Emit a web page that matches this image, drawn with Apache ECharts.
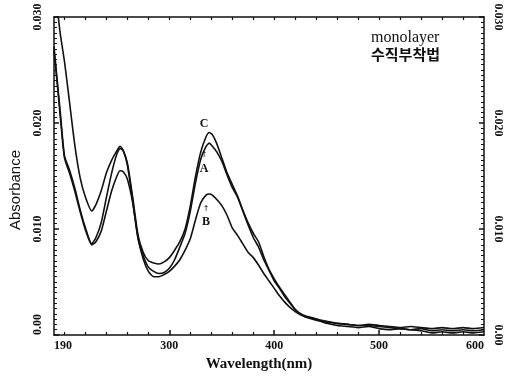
<!DOCTYPE html>
<html>
<head>
<meta charset="utf-8">
<script src="https://cdn.jsdelivr.net/npm/echarts@6/dist/echarts.min.js"></script>
<style>
html,body{margin:0;padding:0;background:#fff;}
#chart{width:505px;height:377px;}
</style>
</head>
<body>
<div id="chart"></div>
<script>
const wavelengths = [190,193,196,200,205,210,215,220,226,230,235,240,245,250,253,256,260,265,270,275,280,285,290,295,300,305,310,315,320,325,330,335,338,341,345,350,355,360,365,370,375,380,385,390,395,400,405,410,415,420,425,430,440,450,460,470,480,490,500,510,520,530,540,550,560,570,580,590,600];
const curveC = [0.034,0.031,0.0284,0.0258,0.0218,0.0178,0.0148,0.013,0.0117,0.0123,0.0136,0.0153,0.0165,0.0174,0.0178,0.0174,0.0162,0.013,0.0095,0.0078,0.007,0.0068,0.0067,0.0069,0.0073,0.0080,0.0088,0.0100,0.0122,0.0150,0.0173,0.0187,0.0191,0.0189,0.0181,0.0167,0.0153,0.0142,0.0131,0.0118,0.0106,0.0096,0.0088,0.0074,0.0062,0.0053,0.0045,0.0038,0.0031,0.0024,0.002,0.0017,0.0014,0.0012,0.0011,0.001,0.0009,0.001,0.0009,0.0008,0.0007,0.0008,0.0007,0.0006,0.0007,0.0006,0.0007,0.0006,0.0007];
const curveA = [0.0272,0.0241,0.021,0.0169,0.0155,0.0138,0.0118,0.0101,0.0086,0.0092,0.0106,0.013,0.0153,0.0171,0.0176,0.0174,0.016,0.0127,0.0092,0.0075,0.0064,0.006,0.0058,0.0059,0.0063,0.0071,0.0083,0.0096,0.0117,0.0144,0.0166,0.0178,0.0181,0.0178,0.0173,0.0164,0.0151,0.0139,0.013,0.0117,0.0104,0.0092,0.0083,0.0071,0.0061,0.0051,0.0044,0.0036,0.003,0.0024,0.002,0.0018,0.0015,0.0011,0.0009,0.0008,0.0007,0.0008,0.0006,0.0005,0.0006,0.0005,0.0006,0.0004,0.0005,0.0004,0.0005,0.0004,0.0005];
const curveB = [0.0268,0.0238,0.0206,0.0167,0.0152,0.0135,0.0116,0.0099,0.0085,0.0088,0.0098,0.0117,0.0136,0.015,0.0155,0.0154,0.0147,0.0125,0.0092,0.0072,0.006,0.0055,0.0055,0.0057,0.006,0.0065,0.0071,0.0080,0.0091,0.0109,0.0125,0.0132,0.0133,0.0132,0.0128,0.0122,0.0113,0.0101,0.0094,0.0086,0.0078,0.0073,0.0066,0.0058,0.0051,0.0044,0.0037,0.0031,0.0026,0.0022,0.0019,0.0017,0.0015,0.0013,0.0011,0.001,0.0009,0.0009,0.0008,0.0007,0.0006,0.0005,0.0004,0.0002,0.0003,0.0002,0.0003,0.0002,0.0003];
const xTickLabels = [190,300,400,500,600];
const xMajorTicks = [300,400,500];
const xMinorTicks = [200,220,240,260,280,320,340,360,380,420,440,460,480,520,540,560,580];
const yTickLabels = ['0.00','0.010','0.020','0.030'];
const curveNames = ['C','A','B'];

const chart = echarts.init(document.getElementById('chart'), null, {renderer:'canvas'});
const serif = 'Liberation Serif';
const ink = '#111';
const pairs = arr => wavelengths.map((w,i)=>[w, arr[i]]);
const yFmt = v => yTickLabels[Math.round(v/0.01)];

const baseX = {type:'value', min:190, max:600, gridIndex:0};
const option = {
  animation:false,
  backgroundColor:'#fff',
  grid:{left:48, right:21, top:17, bottom:38},
  xAxis:[
    Object.assign({}, baseX, {
      position:'bottom',
      name:'Wavelength(nm)', nameLocation:'middle', nameGap:22,
      nameTextStyle:{fontFamily:serif, fontWeight:'bold', fontSize:15, color:ink, padding:[0,20,0,0]},
      axisLine:{show:true, lineStyle:{color:ink, width:1.5}},
      axisTick:{show:true, inside:true, length:5, customValues:xMajorTicks, lineStyle:{color:ink, width:1.5}},
      axisLabel:{customValues:xTickLabels, fontFamily:serif, fontWeight:'bold', fontSize:12, color:ink, margin:5, alignMinLabel:'left', alignMaxLabel:'right'},
      splitLine:{show:false}
    }),
    Object.assign({}, baseX, {
      position:'bottom',
      axisLine:{show:false},
      axisTick:{show:true, inside:true, length:3, customValues:xMinorTicks, lineStyle:{color:ink, width:1.2}},
      axisLabel:{show:false},
      splitLine:{show:false}
    }),
    Object.assign({}, baseX, {
      position:'top',
      axisLine:{show:true, lineStyle:{color:ink, width:1.5}},
      axisTick:{show:true, inside:true, length:3, customValues:xMinorTicks.concat(xMajorTicks), lineStyle:{color:ink, width:1.2}},
      axisLabel:{show:false},
      splitLine:{show:false}
    })
  ],
  yAxis:[
    {
      type:'value', min:0, max:0.03, interval:0.01, position:'left',
      name:'Absorbance', nameLocation:'middle', nameGap:31,
      nameTextStyle:{fontFamily:'Liberation Sans', fontSize:15, color:ink, padding:[0,28,0,0]},
      axisLine:{show:true, lineStyle:{color:ink, width:1.5}},
      axisTick:{show:true, inside:true, length:5, lineStyle:{color:ink, width:1.5}},
      minorTick:{show:true, splitNumber:20, length:3, lineStyle:{color:ink, width:1}},
      axisLabel:{rotate:90, formatter:yFmt, fontFamily:serif, fontWeight:'bold', fontSize:12, color:ink, margin:10, alignMinLabel:'left'},
      splitLine:{show:false}, minorSplitLine:{show:false}
    },
    {
      type:'value', min:0, max:0.03, interval:0.01, position:'right',
      axisLine:{show:true, lineStyle:{color:ink, width:1.5}},
      axisTick:{show:true, inside:true, length:5, lineStyle:{color:ink, width:1.5}},
      minorTick:{show:true, splitNumber:20, length:3, lineStyle:{color:ink, width:1}},
      axisLabel:{rotate:-90, formatter:yFmt, fontFamily:serif, fontWeight:'bold', fontSize:12, color:ink, margin:8},
      splitLine:{show:false}, minorSplitLine:{show:false}
    }
  ],
  series:[curveC, curveA, curveB].map((arr,k)=>({
    type:'line', name:curveNames[k], xAxisIndex:0, yAxisIndex:0,
    data:pairs(arr), showSymbol:false, smooth:0.2, clip:true,
    lineStyle:{color:ink, width:1.6}, itemStyle:{color:ink}
  })),
  graphic:[
    {type:'text', left:371, top:30, style:{text:'monolayer', font:'16px "Liberation Serif"', fill:ink}},
    {type:'text', left:371, top:47, style:{text:'수직부착법', font:'bold 15px "Noto Sans CJK KR"', fill:ink}},
    {type:'text', x:204, y:124, style:{text:'C', font:'bold 12px "Liberation Serif"', fill:ink, align:'center', verticalAlign:'middle'}},
    {type:'text', x:204, y:155, style:{text:'↑', font:'8px "DejaVu Sans"', fill:ink, align:'center', verticalAlign:'middle'}},
    {type:'text', x:204, y:169, style:{text:'A', font:'bold 12px "Liberation Serif"', fill:ink, align:'center', verticalAlign:'middle'}},
    {type:'text', x:206, y:209, style:{text:'↑', font:'8px "DejaVu Sans"', fill:ink, align:'center', verticalAlign:'middle'}},
    {type:'text', x:206, y:222, style:{text:'B', font:'bold 12px "Liberation Serif"', fill:ink, align:'center', verticalAlign:'middle'}}
  ]
};
chart.setOption(option);
</script>
</body>
</html>
